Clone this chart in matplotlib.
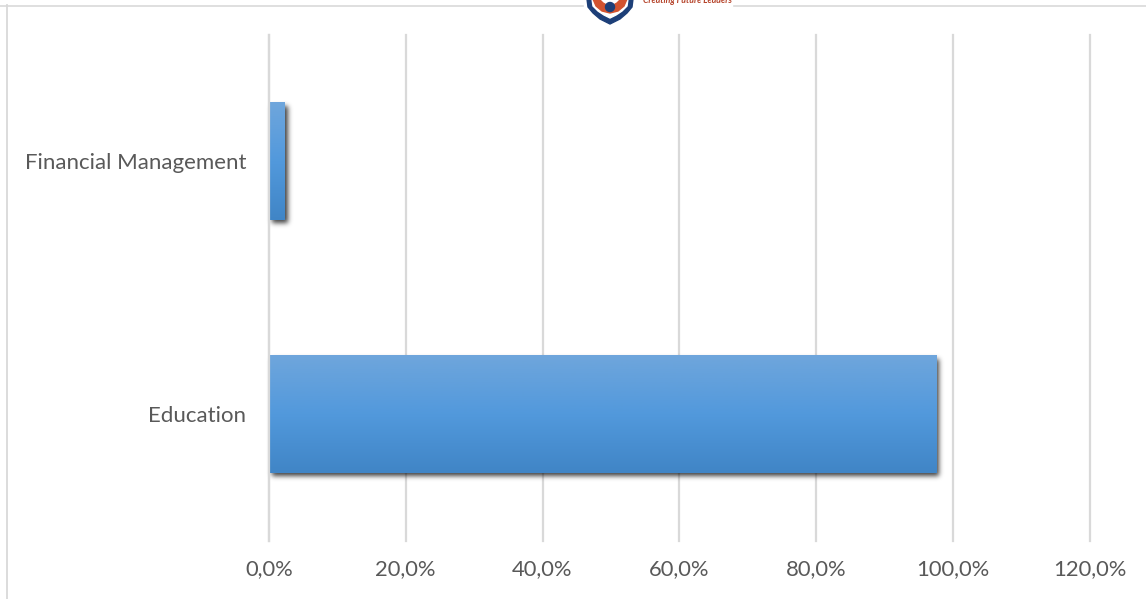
import numpy as np
from matplotlib import pyplot as plt
from matplotlib.colors import LinearSegmentedColormap
from matplotlib.patches import Circle, Polygon, Rectangle
from matplotlib.ticker import FuncFormatter

categories = ["Education", "Financial Management"]
values = [97.6, 2.3]
x_ticks = [0, 20, 40, 60, 80, 100, 120]

grid_color = "#d9d9d9"
text_color = "#595959"
bar_colors = ["#6fa6dc", "#5299dc", "#4085c6"]  # top, middle, bottom of the gradient

plt.rcParams["font.family"] = ["Lato", "DejaVu Sans"]

W, H = 1146, 599
fig = plt.figure(figsize=(W / 100, H / 100), dpi=100, facecolor="white")


def blurred_shadow(image, dpi):
    # agg filter: black copy of the patch, shifted and blurred
    pad = 12
    alpha = np.pad(image[:, :, 3], pad)
    kernel = np.exp(-0.5 * (np.arange(-8, 9) / 2.5) ** 2)
    kernel /= kernel.sum()
    alpha = np.apply_along_axis(lambda r: np.convolve(r, kernel, mode="same"), 0, alpha)
    alpha = np.apply_along_axis(lambda r: np.convolve(r, kernel, mode="same"), 1, alpha)
    out = np.zeros(alpha.shape + (4,))
    out[:, :, 3] = alpha * 0.75
    return out, -pad + 2.5, -pad - 3


# page frame and cut off logo, in pixel coordinates
page = fig.add_axes([0, 0, 1, 1], zorder=0)
page.set_xlim(0, W)
page.set_ylim(H, 0)
page.axis("off")
page.plot([7, 7], [5, H], color=grid_color, lw=1.3)
page.plot([0, W], [5.5, 5.5], color=grid_color, lw=1.2)
page.add_patch(Rectangle((584, 0), 148, 12, color="white", zorder=2))

shield_x = np.array([587, 633, 632, 627, 620, 610, 600, 593, 588])
shield_y = np.array([-1, -1, 7, 13, 19, 24, 19, 13, 7])
page.add_patch(Polygon(np.c_[shield_x, shield_y], color="#1d3f78", zorder=3))
inner_x = np.array([592, 628, 627, 622, 616, 610, 604, 598, 593])
inner_y = np.array([-1, -1, 6, 11, 15, 18, 15, 11, 6])
page.add_patch(Polygon(np.c_[inner_x, inner_y], color="white", zorder=4))
arc_x = np.array([593, 599, 603, 610, 617, 621, 627, 624, 618, 610, 602, 596])
arc_y = np.array([-1, -1, 3, 7, 3, -1, -1, 6, 11, 13, 11, 6])
page.add_patch(Polygon(np.c_[arc_x, arc_y], color="#d2532f", zorder=5))
page.add_patch(Circle((610, 7), 4.5, color="#1d3f78", zorder=6))
page.text(643, 0.5, "Creating Future Leaders", color="#b5432a", fontsize=6.3,
          style="italic", weight="bold", ha="left", va="center", zorder=6)

# the chart itself
ax = fig.add_axes([269 / W, 1 - 541 / H, 820.5 / W, 506.5 / H], zorder=1)
ax.patch.set_alpha(0)

bars = ax.barh(range(len(categories)), values, height=0.462, color=bar_colors[1], zorder=3)
for bar in bars:
    bar.set_agg_filter(blurred_shadow)

# vertical gradient, clipped to each bar
gradient = LinearSegmentedColormap.from_list("bar", bar_colors[::-1])
for bar in bars:
    x0, y0, w, h = bar.get_x(), bar.get_y(), bar.get_width(), bar.get_height()
    ax.imshow(np.linspace(0, 1, 256)[:, None], cmap=gradient, origin="lower", aspect="auto",
              extent=(x0, x0 + w, y0, y0 + h), zorder=4)
ax.set_xlim(0, 120)
ax.set_ylim(-0.5, 1.5)

ax.set_yticks(range(len(categories)))
ax.set_yticklabels(categories, fontsize=16)
ax.set_xticks(x_ticks)
ax.xaxis.set_major_formatter(FuncFormatter(lambda v, p: f"{v:.1f}%".replace(".", ",")))
ax.tick_params(axis="x", length=0, labelsize=15.8, labelcolor=text_color, pad=13)
ax.tick_params(axis="y", length=0, labelcolor=text_color, pad=16.5)
ax.grid(axis="x", color=grid_color, lw=1.6, zorder=1, clip_on=False)
ax.axvline(0, color=grid_color, lw=1.6, zorder=5, clip_on=False)  # zero line stays over the bars
ax.set_axisbelow(True)
for spine in ax.spines.values():
    spine.set_visible(False)

fig.savefig("out.png", dpi=100)
